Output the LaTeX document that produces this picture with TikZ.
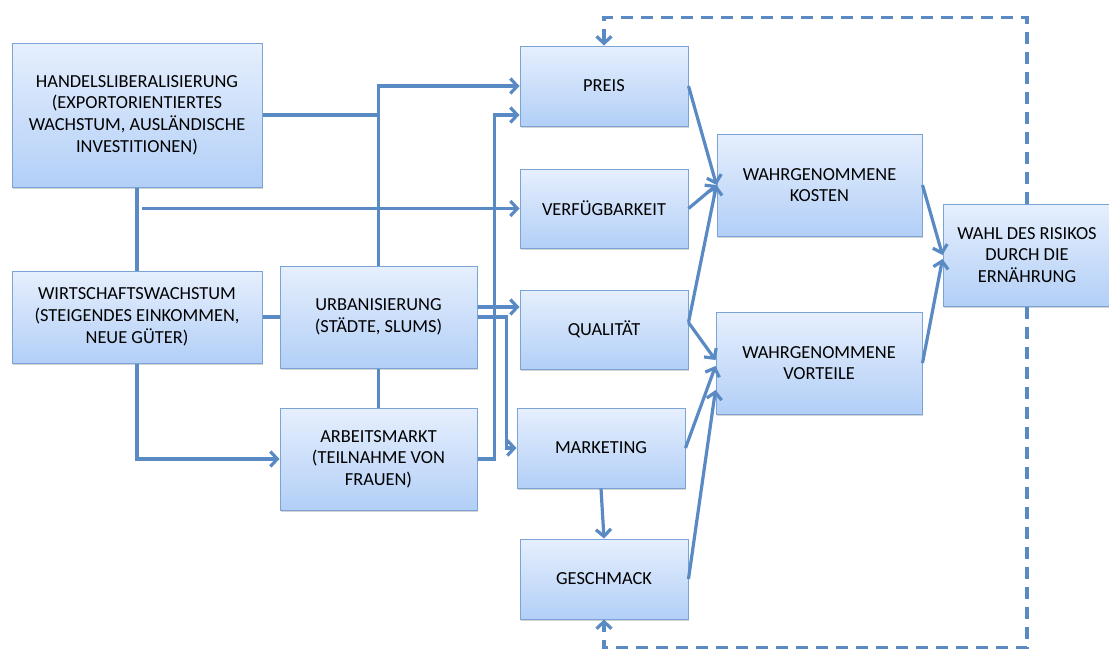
\documentclass[tikz,border=0pt]{standalone}
\usepackage{fontspec}
\setmainfont{Carlito}
\usepackage{tikz}
\usepackage{xcolor}
\usetikzlibrary{arrows.meta,calc,shadows}
\definecolor{linkblue}{HTML}{5A8AC4}
\definecolor{boxline}{HTML}{7BA3D6}
\definecolor{boxtop}{HTML}{E6EFFD}
\definecolor{boxbot}{HTML}{B2CFF7}

\begin{document}
\begin{tikzpicture}[x=1pt,y=-1pt,
  box/.style={draw=boxline, line width=1pt, top color=boxtop, bottom color=boxbot,
    drop shadow={shadow xshift=0.8pt,shadow yshift=-2pt,opacity=0.35},
    align=center, inner sep=2pt, text=black, font=\fontsize{18.4}{21.7}\selectfont},
  link/.style={draw=linkblue, line width=3.2pt},
  arrow/.style={link, -{Straight Barb[length=7pt,width=15pt]}},
  loopback/.style={arrow, dash pattern=on 12pt off 8pt}]
\useasboundingbox (0,0) rectangle (1109,651);
\clip (0,0) rectangle (1109,651);
\node[box, minimum width=250pt, minimum height=144pt] (handel) at (137,115) {HANDELSLIBERALISIERUNG\\(EXPORTORIENTIERTES\\WACHSTUM, AUSLÄNDISCHE\\INVESTITIONEN)};
\node[box, minimum width=250pt, minimum height=92pt] (wirt) at (137,317) {WIRTSCHAFTSWACHSTUM\\(STEIGENDES EINKOMMEN,\\NEUE GÜTER)};
\node[box, minimum width=197pt, minimum height=102pt] (urban) at (378.5,317) {URBANISIERUNG\\(STÄDTE, SLUMS)};
\node[box, minimum width=197pt, minimum height=102pt] (arbeit) at (378.5,459) {ARBEITSMARKT\\(TEILNAHME VON\\FRAUEN)};
\node[box, minimum width=168pt, minimum height=80pt] (preis) at (604,86) {PREIS};
\node[box, minimum width=168pt, minimum height=79pt] (verf) at (604,208.5) {VERFÜGBARKEIT};
\node[box, minimum width=168pt, minimum height=79pt] (qual) at (604,329.5) {QUALITÄT};
\node[box, minimum width=168pt, minimum height=80pt] (mark) at (601,448) {MARKETING};
\node[box, minimum width=168pt, minimum height=80pt] (gesch) at (604,579) {GESCHMACK};
\node[box, minimum width=205pt, minimum height=102pt] (kosten) at (819.5,185) {WAHRGENOMMENE\\KOSTEN};
\node[box, minimum width=206pt, minimum height=102pt] (vort) at (819,363) {WAHRGENOMMENE\\VORTEILE};
\node[box, minimum width=168pt, minimum height=102pt] (wahl) at (1027,255) {WAHL DES RISIKOS\\DURCH DIE\\ERNÄHRUNG};

\coordinate (vfrom) at (142,208.5);
\coordinate (ufirst) at ($(urban.east)+(0,-10)$);
\coordinate (preislow) at ($(preis.west)+(0,29)$);

\draw[link] (handel) -- (wirt);
\draw[link] (handel.east) -- (handel.east -| urban.north);
\draw[link] (wirt) -- (urban);
\draw[link] (urban) -- (arbeit);
\draw[arrow] (urban.north) |- (preis.west);
\draw[arrow] (arbeit.east) -- ++(17,0) |- (preislow);
\draw[arrow] (vfrom) -- (verf.west);
\draw[arrow] (wirt.south) |- (arbeit.west);
\draw[arrow] (ufirst) -- (ufirst -| qual.west);
\draw[arrow] (urban.east) -- ++(29,0) |- (mark.west);
\draw[arrow] (preis.east) -- (kosten.west);
\draw[arrow] (verf.east) -- (kosten.west);
\draw[arrow] ([yshift=7pt]qual.east) -- (kosten.west);
\draw[arrow] ([yshift=7pt]qual.east) -- ([yshift=3pt]vort.west);
\draw[arrow] (mark.east) -- ([yshift=-3pt]vort.west);
\draw[arrow] (gesch.east) -- ([yshift=-27pt]vort.west);
\draw[arrow] (mark.south) -- (gesch.north);
\draw[arrow] (kosten.east) -- (wahl.west);
\draw[arrow] (vort.east) -- ([yshift=-4pt]wahl.west);
\draw[loopback] (wahl.north) -- ++(0,-186) -| (preis.north);
\draw[loopback] (wahl.south) -- ++(0,341) -| (gesch.south);
\end{tikzpicture}
\end{document}
